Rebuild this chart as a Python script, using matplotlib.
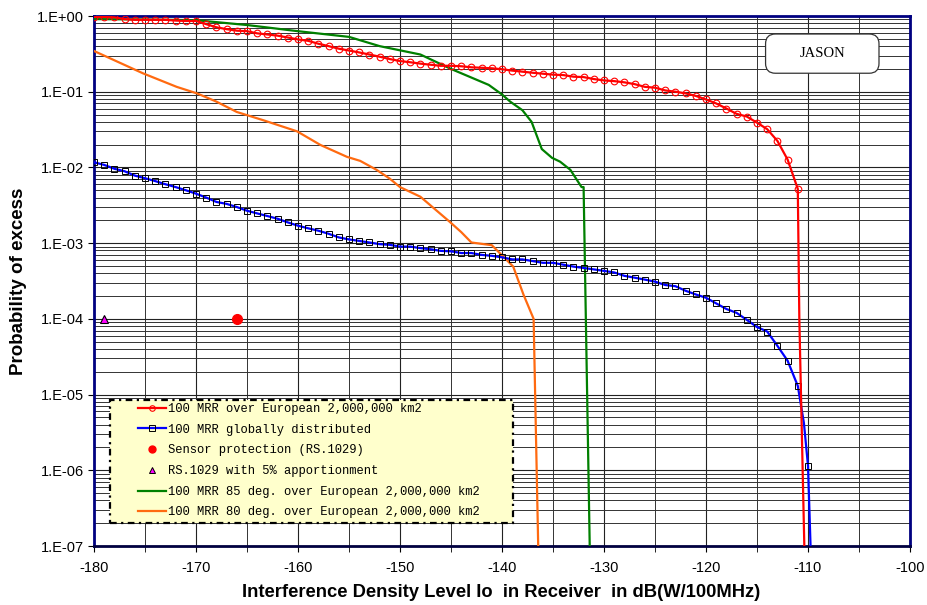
import numpy as np
import matplotlib
matplotlib.use("Agg")
import matplotlib.pyplot as plt
from matplotlib.ticker import FixedLocator, FuncFormatter, LogLocator, NullFormatter
from matplotlib.lines import Line2D
from matplotlib.patches import FancyBboxPatch, Rectangle

# 100 MRR over European 2,000,000 km2 (markers every 1 dB, then steep tail)
red_x = list(range(-180, -110)) + [-110.85, -110.36]
red_y = [0.97, 0.97, 0.96, 0.91, 0.89, 0.89, 0.89, 0.89, 0.87, 0.86,
         0.86, 0.78, 0.71, 0.67, 0.64, 0.63, 0.59, 0.57, 0.55, 0.52,
         0.49, 0.47, 0.43, 0.40, 0.37, 0.35, 0.33, 0.31, 0.29, 0.27,
         0.254, 0.245, 0.235, 0.227, 0.22, 0.22, 0.217, 0.21, 0.207, 0.204,
         0.198, 0.19, 0.184, 0.178, 0.173, 0.168, 0.166, 0.158, 0.156, 0.147,
         0.141, 0.138, 0.133, 0.126, 0.116, 0.113, 0.104, 0.100, 0.095, 0.088,
         0.079, 0.070, 0.060, 0.051, 0.047, 0.039, 0.032, 0.0224, 0.0127, 0.0052,
         1e-4, 1e-7]

# 100 MRR globally distributed
blue_x = list(range(-180, -110)) + [-110.4, -110, -109.75]
blue_y = [0.0117, 0.0108, 0.0096, 0.0089, 0.0078, 0.0072, 0.0066, 0.0060, 0.0055, 0.0050,
          0.0045, 0.0040, 0.0035, 0.0033, 0.0030, 0.00268, 0.00247, 0.00228, 0.0021, 0.00188,
          0.0017, 0.00157, 0.00146, 0.00133, 0.00119, 0.00112, 0.00107, 0.00102, 0.00097, 0.00095,
          0.0009, 0.0009, 0.00086, 0.00083, 0.00079, 0.00078, 0.00074, 0.00074, 0.0007, 0.00068,
          0.00065, 0.00061, 0.00061, 0.00058, 0.00055, 0.00055, 0.00052, 0.00049, 0.00047, 0.00045,
          0.00043, 0.00041, 0.00037, 0.00035, 0.00033, 0.00031, 0.00028, 0.00027, 0.000235, 0.00021,
          0.00019, 0.00016, 0.000135, 0.00012, 9.7e-5, 7.8e-5, 6.8e-5, 4.4e-5, 2.8e-5, 1.3e-5,
          4.2e-6, 1.15e-6, 1e-7]

# 100 MRR 85 deg.
green_x = [-180, -175, -170, -165, -160, -155, -152, -148, -145, -141.3, -140, -139.2,
           -138, -137.1, -136.1, -135.1, -134.3, -133.3, -132.2, -132.0, -131.4]
green_y = [0.91, 0.90, 0.88, 0.76, 0.63, 0.53, 0.40, 0.31, 0.20, 0.123, 0.092, 0.074,
           0.057, 0.040, 0.0175, 0.0134, 0.0119, 0.0093, 0.0055, 0.0055, 1e-7]

# 100 MRR 80 deg.
orange_x = [-180, -175.2, -171.9, -169.9, -168, -166, -163.4, -160.1, -157.8, -155.2,
            -153.9, -152.3, -151, -150, -148, -145.1, -144, -143, -141, -140,
            -138.9, -137.9, -136.9, -136.45]
orange_y = [0.345, 0.175, 0.116, 0.095, 0.074, 0.054, 0.042, 0.030, 0.0198, 0.0138,
            0.0122, 0.0093, 0.0071, 0.0055, 0.0041, 0.0019, 0.0014, 0.00102, 0.00094, 0.00069,
            0.00049, 0.00021, 0.0001, 1e-7]

sensor_x, sensor_y = [-166], [1e-4]
rs_x, rs_y = [-179], [1e-4]

labels = ["100 MRR over European 2,000,000 km2",
          "100 MRR globally distributed",
          "Sensor protection (RS.1029)",
          "RS.1029 with 5% apportionment",
          "100 MRR 85 deg. over European 2,000,000 km2",
          "100 MRR 80 deg. over European 2,000,000 km2"]

plt.rcParams['font.family'] = ['Liberation Sans', 'DejaVu Sans']
plt.rcParams['axes.unicode_minus'] = False

fig = plt.figure(figsize=(9.27, 6.05), dpi=100)
ax = fig.add_axes([94/927, 59/605, 816/927, 530/605])
ax.set_yscale('log')
ax.set_xlim(-180, -100)
ax.set_ylim(1e-7, 1)

# grid
ax.xaxis.set_major_locator(FixedLocator(np.arange(-180, -99, 10)))
ax.xaxis.set_minor_locator(FixedLocator(np.arange(-175, -100, 10)))
ax.yaxis.set_major_locator(LogLocator(base=10, numticks=20))
ax.yaxis.set_minor_locator(LogLocator(base=10, subs=np.arange(2, 10), numticks=20))
ax.yaxis.set_minor_formatter(NullFormatter())
ax.yaxis.set_major_formatter(FuncFormatter(lambda v, p: '1.E%+03d' % round(np.log10(v))))
ax.grid(which='major', color='#222222', lw=0.8)
ax.grid(which='minor', color='#333333', lw=0.7)
ax.set_axisbelow(True)

ax.plot(red_x, red_y, color='red', lw=1.6, marker='o', ms=4.8, mfc='none', mec='red',
        mew=0.8, markevery=list(range(70)), zorder=5)
ax.plot(blue_x, blue_y, color='blue', lw=1.6, marker='s', ms=4.8, mfc='none', mec='black',
        mew=0.7, markevery=list(range(70)) + [71], zorder=4)
ax.plot(sensor_x, sensor_y, 'o', color='red', ms=7, zorder=6)
ax.plot(rs_x, rs_y, '^', color='#FF00FF', mec='black', mew=0.8, ms=6, zorder=6)
ax.plot(green_x, green_y, color='green', lw=1.6, zorder=3)
ax.plot(orange_x, orange_y, color='#FF6A10', lw=1.6, zorder=3)

for s in ax.spines.values():
    s.set_color('#000080')
    s.set_linewidth(2)
ax.spines['bottom'].set_color('#000040')

ax.tick_params(axis='both', which='major', labelsize=10.5, length=4, color='black')
ax.tick_params(axis='x', which='minor', length=4, color='black')
ax.tick_params(axis='y', which='minor', length=0)
ax.tick_params(axis='x', pad=7)

ax.set_xlabel('Interference Density Level Io  in Receiver  in dB(W/100MHz)',
              fontsize=13.2, fontweight='bold', va='center')
ax.xaxis.set_label_coords(0.4994, -0.0875)
ax.set_ylabel('Probability of excess', fontsize=13.5, fontweight='bold', va='center')
ax.yaxis.set_label_coords(-0.0931, 0.5)

# legend frame drawn separately (dash-dot border, light yellow fill)
lx0, ly0 = 110, 400
lx1, ly1 = 513, 523
frame = Rectangle(((lx0 - 94) / 816, (546 - ly1) / 530), (lx1 - lx0) / 816, (ly1 - ly0) / 530,
                  transform=ax.transAxes, facecolor='#FFFFCC', edgecolor='black', lw=1.6,
                  linestyle=(0, (3, 2, 1, 2)), zorder=9)
ax.add_patch(frame)

handles = [
    Line2D([], [], color='red', lw=1.6, marker='o', ms=4, mfc='none', mec='red', mew=0.8),
    Line2D([], [], color='blue', lw=1.6, marker='s', ms=4, mfc='none', mec='black', mew=0.7),
    Line2D([], [], ls='none', marker='o', color='red', ms=5),
    Line2D([], [], ls='none', marker='^', color='#FF00FF', mec='black', mew=0.7, ms=5),
    Line2D([], [], color='green', lw=1.6),
    Line2D([], [], color='#FF6A10', lw=1.6),
]
leg = ax.legend(handles, labels, loc='upper left',
                bbox_to_anchor=((138 - 94) / 816, (546 - 403) / 530),
                prop={'family': 'Liberation Mono', 'size': 8.7}, frameon=False,
                labelspacing=0.72, handlelength=2.3, handletextpad=0.16,
                borderpad=0, borderaxespad=0)
leg.set_zorder(10)

box = FancyBboxPatch((0.823, 0.892), 0.139, 0.074, transform=ax.transAxes,
                     boxstyle='round,pad=0,rounding_size=0.012', mutation_aspect=1.54,
                     facecolor='white', edgecolor='#333333', lw=0.9, zorder=9)
ax.add_patch(box)
ax.text(0.8925, 0.929, 'JASON', transform=ax.transAxes, ha='center', va='center',
        family='Liberation Serif', fontsize=10.5, zorder=11)

fig.savefig('out.png', dpi=100)
